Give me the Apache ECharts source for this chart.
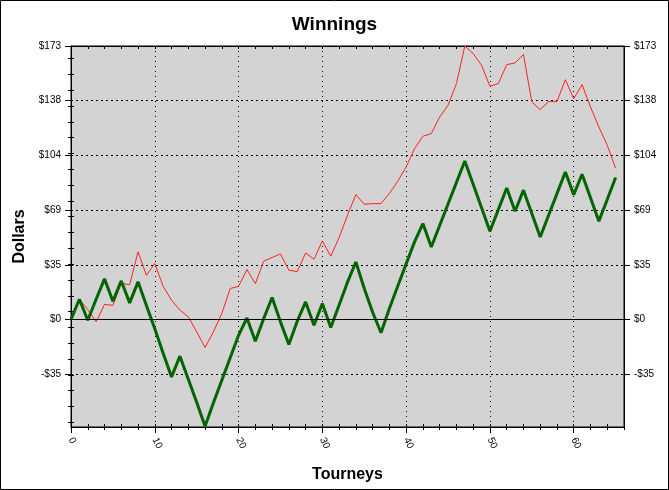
<!DOCTYPE html>
<html>
<head>
<meta charset="utf-8">
<title>Winnings</title>
<script src="https://cdn.jsdelivr.net/npm/echarts@6.0.0/dist/echarts.min.js"></script>
<style>
  html, body { margin: 0; padding: 0; background: #fff; }
  #chart { width: 669px; height: 490px; }
</style>
</head>
<body>
<div id="chart"></div>
<script>
// tourney number, one point each
var tourneys = [];
for (var i = 0; i <= 65; i++) tourneys.push(i);

// red line - total winnings
var winnings = [0, 12.8, 6.3, -1.5, 9.5, 9, 22.8, 22, 42.8, 28,
  35.4, 21, 12.2, 5.9, 1.7, -7.8, -17.7, -7.8, 3.8, 19.6,
  21, 31.6, 22.7, 36.9, 39.2, 41.5, 31.2, 30.3, 42.1, 38.1,
  49.7, 40, 51.8, 66, 79, 72.9, 73.3, 73.3, 79.7, 87.5,
  96.5, 108, 115.9, 117.6, 128.1, 135.5, 149.2, 173, 168.2, 160.8,
  147.5, 149.2, 161.2, 162.3, 167.6, 137.6, 132.8, 137.8, 137.8, 151.7,
  139.7, 148.6, 134.4, 121.8, 110.2, 95.7];

// green line
var trend = [0, 12.8, -0.5, 12.8, 25.7, 11.6, 24.4, 10.5, 23.8, 8.9,
  -5.9, -21.3, -36.3, -23.2, -37.8, -52.3, -67.5, -52.6, -38.4, -24.2,
  -10, 1, -13.7, 0.6, 13.9, -1.5, -15.8, -1.1, 11.1, -3.6,
  10.1, -5.1, 9.2, 23.6, 36.4, 19.6, 4.6, -8.4, 7, 21.2,
  35.2, 49.1, 60.7, 45.9, 59.5, 73.1, 86.7, 100.3, 85.5, 70.7,
  55.8, 69.5, 83.2, 68.5, 81.8, 67, 52.2, 65.9, 79.6, 93.3,
  79, 91.9, 77, 62.2, 75.9, 89.8];

// tick positions
var yMajor = [-34.6, 0, 34.6, 69.2, 103.8, 138.4, 173];
var yMinor = [-65, -55, -45, -35, -25, -15, -5, 5, 15, 25, 35, 45, 55,
  65, 75, 85, 95, 105, 115, 125, 135, 145, 155, 165];
var xMajor = [0, 10, 20, 30, 40, 50, 60];
var xMinor = [0, 2, 4, 6, 8, 10, 12, 14, 16, 18, 20, 22, 24, 26, 28, 30, 32,
  34, 36, 38, 40, 42, 44, 46, 48, 50, 52, 54, 56, 58, 60, 62, 64, 66];

var yMin = -68, yMax = 173;
var xMin = 0, xMax = 66;

function pairs(vals) {
  return tourneys.map(function (t, i) { return [t, vals[i]]; });
}

function dollar(v) {
  var r = Math.round(v);
  return (r < 0 ? '-$' : '$') + Math.abs(r);
}

var font = 'Arial, "Liberation Sans"';
var nameStyle = { color: '#000', fontFamily: font, fontSize: 16, fontWeight: 'bold' };
var black = { color: '#000', width: 1 };

// extra axes only for tick marks
function tickY(pos, inside, vals, len) {
  return {
    type: 'value', position: pos, min: yMin, max: yMax,
    axisLine: { show: false },
    axisTick: { show: true, inside: inside, length: len, customValues: vals, lineStyle: black },
    axisLabel: { show: false },
    splitLine: { show: false }
  };
}
function tickX(pos, inside, vals, len, line) {
  return {
    type: 'value', position: pos, min: xMin, max: xMax,
    axisLine: { show: !!line, onZero: false, lineStyle: black },
    axisTick: { show: true, inside: inside, length: len, customValues: vals, lineStyle: black },
    axisLabel: { show: false },
    splitLine: { show: false }
  };
}

var chart = echarts.init(document.getElementById('chart'), null, { renderer: 'canvas' });

chart.setOption({
  animation: false,
  backgroundColor: '#fff',
  title: {
    text: 'Winnings',
    left: 'center',
    top: 10,
    textStyle: { color: '#000', fontFamily: font, fontSize: 19, fontWeight: 'bold' }
  },
  graphic: [{
    type: 'rect',
    shape: { x: 0.5, y: 0.5, width: 668, height: 489 },
    style: { fill: 'none', stroke: '#000', lineWidth: 1 },
    silent: true
  }],
  grid: {
    left: 71, right: 45, top: 46, bottom: 63,
    show: true, backgroundColor: '#d3d3d3', borderColor: '#000', borderWidth: 1
  },
  xAxis: [
    {
      type: 'value', position: 'bottom', min: xMin, max: xMax,
      name: 'Tourneys', nameLocation: 'middle', nameGap: 40, nameTextStyle: nameStyle,
      axisLine: { show: true, onZero: false, lineStyle: black },
      axisTick: { show: true, length: 6, customValues: xMajor, lineStyle: black },
      axisLabel: { customValues: xMajor, rotate: -65, margin: 11, color: '#000', fontFamily: font, fontSize: 10 },
      splitLine: { show: true, lineStyle: { color: '#000', width: 1, type: [1, 4] } }
    },
    tickX('bottom', true, xMinor, 3),
    tickX('bottom', false, xMinor, 3),
    tickX('top', true, xMinor, 3, true)
  ],
  yAxis: [
    {
      type: 'value', position: 'left', min: yMin, max: yMax,
      name: 'Dollars', nameLocation: 'middle', nameGap: 40, nameTextStyle: nameStyle,
      axisLine: { show: true, onZero: false, lineStyle: black },
      axisTick: { show: true, length: 6, customValues: yMajor, lineStyle: black },
      axisLabel: { customValues: yMajor, formatter: dollar, margin: 10, color: '#000', fontFamily: font, fontSize: 10 },
      splitLine: { show: true, lineStyle: { color: '#000', width: 1, type: [2, 3] } }
    },
    {
      type: 'value', position: 'right', min: yMin, max: yMax,
      axisLine: { show: true, onZero: false, lineStyle: black },
      axisTick: { show: true, length: 6, customValues: yMajor, lineStyle: black },
      axisLabel: { customValues: yMajor, formatter: dollar, margin: 10, color: '#000', fontFamily: font, fontSize: 10 },
      splitLine: { show: false }
    },
    tickY('left', true, yMinor, 3),
    tickY('left', false, yMinor, 3),
    tickY('right', true, yMinor, 3),
    tickY('right', false, yMinor, 3)
  ],
  series: [
    {
      name: 'Winnings',
      type: 'line',
      xAxisIndex: 0, yAxisIndex: 0,
      data: pairs(winnings),
      showSymbol: false,
      lineStyle: { color: '#ff2020', width: 1 },
      itemStyle: { color: '#ff2020' },
      markLine: {
        silent: true, symbol: 'none', label: { show: false },
        lineStyle: { color: '#000', width: 1, type: 'solid' },
        data: [{ yAxis: 0 }]
      },
      z: 3
    },
    {
      name: 'Trend',
      type: 'line',
      xAxisIndex: 0, yAxisIndex: 0,
      data: pairs(trend),
      showSymbol: false,
      lineStyle: { color: '#006400', width: 3 },
      itemStyle: { color: '#006400' },
      z: 4
    }
  ]
});
</script>
</body>
</html>
